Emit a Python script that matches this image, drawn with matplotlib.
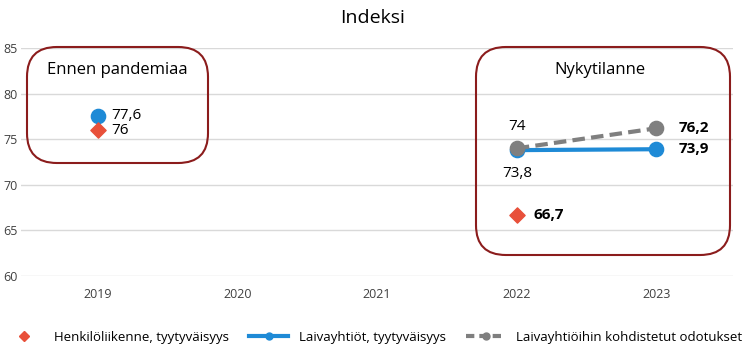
import matplotlib.pyplot as plt
from matplotlib.patches import FancyBboxPatch
import numpy as np

plt.rcParams['font.family'] = ['Open Sans', 'DejaVu Sans']

years = ['2019', '2020', '2021', '2022', '2023']
henkilo = [76.0, np.nan, np.nan, 66.7, np.nan]
laiva = [77.6, np.nan, np.nan, 73.8, 73.9]
odotukset = [np.nan, np.nan, np.nan, 74.0, 76.2]

blue = '#1E8AD6'
grey = '#7F7F7F'
red = '#E8503A'
box_col = '#8B1C1C'

fig = plt.figure(figsize=(7.46, 3.56), dpi=100)
ax = fig.add_axes([0.028, 0.225, 0.955, 0.64])
x = np.arange(len(years))

# lines
ax.plot(x[3:], laiva[3:], color=blue, lw=3, zorder=3)
ax.plot(x[3:], odotukset[3:], color=grey, lw=3, ls=(0, (3, 1.5)), zorder=4)
ax.scatter(x, laiva, s=105, color=blue, zorder=5)
ax.scatter(x, odotukset, s=105, color=grey, zorder=6)
ax.scatter(x, henkilo, s=60, marker='D', color=red, zorder=5)

# legend handles
ax.plot([], [], marker='D', ls='none', color=red, ms=5, label='Henkilöliikenne, tyytyväisyys')
ax.plot([], [], marker='o', color=blue, lw=3, ms=5, label='Laivayhtiöt, tyytyväisyys')
ax.plot([], [], marker='o', color=grey, lw=3, ls=(0, (2, 1.2)), ms=5, label='Laivayhtiöihin kohdistetut odotukset')

ax.set_xlim(-0.55, 4.55)
ax.set_ylim(60, 85)
ax.set_yticks([60, 65, 70, 75, 80, 85])
ax.set_xticks(x)
ax.set_xticklabels(years)
ax.yaxis.grid(True, color='#D9D9D9', lw=1)
ax.set_axisbelow(True)
for s in ax.spines.values():
    s.set_visible(False)
ax.tick_params(length=0, labelsize=9, colors='#404040')
ax.tick_params(axis='x', pad=9)
ax.tick_params(axis='y', pad=2)

# data labels
ax.annotate('77,6', (0, laiva[0]), xytext=(10, 0), textcoords='offset points', va='center', fontsize=11)
ax.annotate('76', (0, henkilo[0]), xytext=(10, 0), textcoords='offset points', va='center', fontsize=11)
ax.annotate('74', (3, odotukset[3]), xytext=(0, 16), textcoords='offset points', ha='center', va='center', fontsize=11)
ax.annotate('73,8', (3, laiva[3]), xytext=(0, -17), textcoords='offset points', ha='center', va='center', fontsize=11)
ax.annotate('66,7', (3, henkilo[3]), xytext=(12, 0), textcoords='offset points', va='center', fontsize=11, fontweight='bold')
ax.annotate('76,2', (4, odotukset[4]), xytext=(16, 0), textcoords='offset points', va='center', fontsize=11, fontweight='bold')
ax.annotate('73,9', (4, laiva[4]), xytext=(16, 0), textcoords='offset points', va='center', fontsize=11, fontweight='bold')

# boxes (figure pixel coords)
def fig_box(x0, y0, x1, y1):
    W, H = 746, 356
    p = FancyBboxPatch((x0 / W, 1 - y1 / H), (x1 - x0) / W, (y1 - y0) / H,
                       boxstyle='round,pad=0,rounding_size=0.04',
                       transform=fig.transFigure, fill=False, ec=box_col, lw=1.5,
                       mutation_aspect=W / H)
    fig.patches.append(p)

fig_box(27, 47, 208, 163)
fig_box(476, 47, 730, 255)
fig.text(117 / 746, 1 - 70 / 356, 'Ennen pandemiaa', ha='center', va='center', fontsize=12)
fig.text(600 / 746, 1 - 70 / 356, 'Nykytilanne', ha='center', va='center', fontsize=12)

fig.text(0.5, 1 - 18 / 356, 'Indeksi', ha='center', va='center', fontsize=14)

fig.legend(loc='center', bbox_to_anchor=(0.5, 1 - 337 / 356), ncol=3, frameon=False,
           fontsize=9.5, handlelength=3, columnspacing=1.5)

fig.savefig('out.png', dpi=100)
